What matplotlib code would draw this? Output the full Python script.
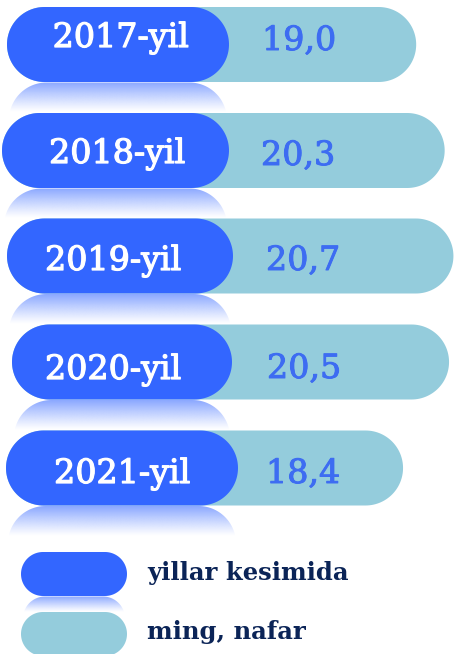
import numpy as np
import matplotlib
matplotlib.use("Agg")
import matplotlib.pyplot as plt
from matplotlib.patches import Polygon
import matplotlib.patheffects as pe

# ---- data ----
years = ["2017-yil", "2018-yil", "2019-yil", "2020-yil", "2021-yil"]
values = [19.0, 20.3, 20.7, 20.5, 18.4]
value_labels = ["19,0", "20,3", "20,7", "20,5", "18,4"]
legend_labels = ["yillar kesimida", "ming, nafar"]

# ---- style / layout ----
BLUE = "#3366ff"
LIGHT = "#94ccdc"
VAL_COLOR = "#3d6cf2"
NAVY = "#0b2457"
W, H = 460, 654
FONT = ["DejaVu Serif"]

row_h = 75
row_y = [44.5, 150.5, 256, 362, 468]
row_left = [7, 2, 7, 12, 6]
blue_right = [229, 229, 233, 232, 238]
label_cx = [121, 117.5, 113.5, 113.5, 122.5]
label_base = [47, 163, 270, 379, 483]
value_x = [262, 261, 266, 267, 266]
value_base = [50, 165, 270, 378, 483]

fig = plt.figure(figsize=(W / 100, H / 100), dpi=100)
# value axis (scale only) and pixel axis (drawing)
vax = fig.add_axes([0, 0, 1, 1])
vax.set_xlim(0, 21.0)
vax.set_ylim(0, 1)
vax.set_axis_off()
pax = fig.add_axes([0, 0, 1, 1])
pax.set_xlim(0, W)
pax.set_ylim(H, 0)
pax.set_axis_off()
pax.patch.set_alpha(0)


def val_to_px(v):
    return vax.transData.transform((v, 0))[0]


def pill_poly(x0, x1, yc, h):
    r = h / 2
    t1 = np.linspace(np.pi / 2, 3 * np.pi / 2, 60)
    t2 = np.linspace(-np.pi / 2, np.pi / 2, 60)
    left = np.column_stack([x0 + r + r * np.cos(t1), yc - r * np.sin(t1)])
    right = np.column_stack([x1 - r + r * np.cos(t2), yc - r * np.sin(t2)])
    return np.vstack([left, right])


def pill(x0, x1, yc, h, color, z=1):
    p = Polygon(pill_poly(x0, x1, yc, h), closed=True, fc=color, ec="none",
                zorder=z, antialiased=True)
    pax.add_patch(p)
    return p


def reflection(x0, x1, ytop, h, depth, z=0.5):
    clip = Polygon(pill_poly(x0, x1, ytop + h / 2, h), closed=True,
                   fc="none", ec="none")
    pax.add_patch(clip)
    n = 64
    grad = np.zeros((n, 2, 4))
    grad[..., 0:3] = matplotlib.colors.to_rgb(BLUE)
    a = np.linspace(0.6, 0.0, n) ** 1.1
    grad[..., 3] = a[:, None]
    im = pax.imshow(grad, extent=[x0, x1, ytop + depth, ytop], aspect="auto",
                    interpolation="bilinear", zorder=z)
    im.set_clip_path(clip)


for i in range(len(years)):
    yc = row_y[i]
    x_end = val_to_px(values[i])
    pill(row_left[i], x_end, yc, row_h, LIGHT, z=1)
    pill(row_left[i], blue_right[i], yc, row_h, BLUE, z=2)
    reflection(row_left[i] + 2, blue_right[i] - 2, yc + row_h / 2 + 0.5, row_h, 30)
    pax.text(label_cx[i], label_base[i], years[i], color="white",
             fontsize=24, family=FONT, ha="center", va="baseline", zorder=3,
             path_effects=[pe.withStroke(linewidth=0.9, foreground="white")])
    pax.text(value_x[i], value_base[i], value_labels[i], color=VAL_COLOR,
             fontsize=24, family=FONT, ha="left", va="baseline", zorder=3,
             path_effects=[pe.withStroke(linewidth=0.7, foreground=VAL_COLOR)])

# legend
lg_y = [574, 634]
lg_h = 44
pill(21, 127, lg_y[0], lg_h, BLUE, z=2)
pill(21, 127, lg_y[1], lg_h, LIGHT, z=2)
reflection(23, 125, lg_y[0] + lg_h / 2 + 0.5, lg_h, 16)
pax.text(147, 580, legend_labels[0], color=NAVY, fontsize=17.5,
         fontweight="bold", family=FONT, ha="left", va="baseline")
pax.text(147, 639, legend_labels[1], color=NAVY, fontsize=17.5,
         fontweight="bold", family=FONT, ha="left", va="baseline")

fig.savefig("out.png", dpi=100)
